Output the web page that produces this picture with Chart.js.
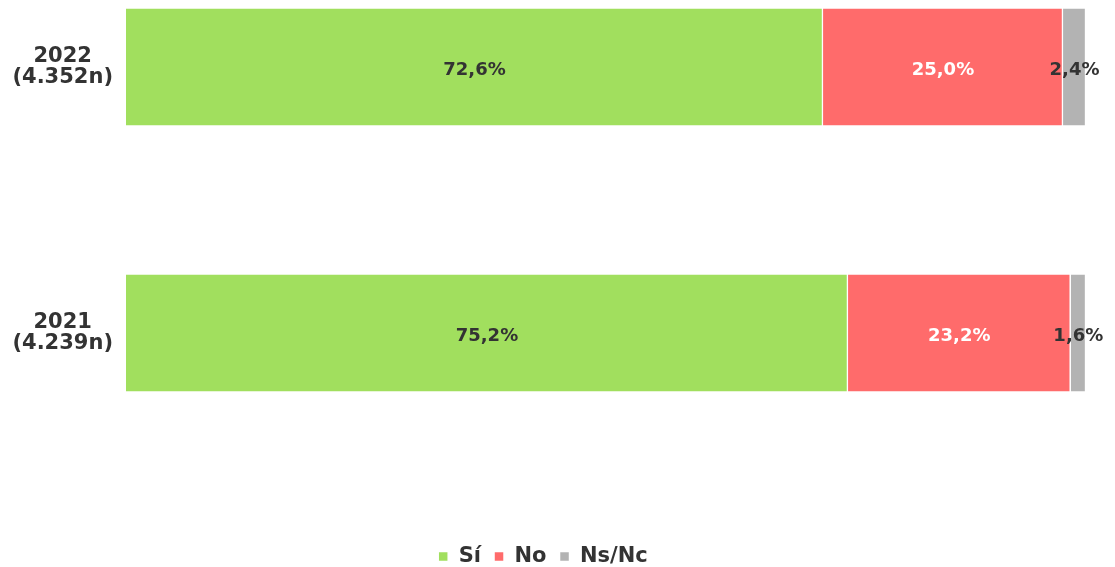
<!DOCTYPE html>
<html>
<head>
<meta charset="utf-8">
<script src="https://cdn.jsdelivr.net/npm/chart.js@4.4.0/dist/chart.umd.min.js"></script>
<style>
  html, body { margin: 0; padding: 0; background: #fff; }
  #wrap { width: 1115px; height: 567px; }
</style>
</head>
<body>
<div id="wrap"><canvas id="grafico"></canvas></div>
<script>
// Datos
const categorias = [['2022', '(4.352n)'], ['2021', '(4.239n)']];
const series = ['Sí', 'No', 'Ns/Nc'];
const valoresSi = [72.6, 75.2];
const valoresNo = [25.0, 23.2];
const valoresNsNc = [2.4, 1.6];

const colores = ['#a1df5e', '#ff6b6b', '#b3b3b3'];
const coloresTexto = ['#333333', '#ffffff', '#333333'];
const fuente = "'DejaVu Sans', Verdana, sans-serif";

// etiquetas dentro de las barras
const etiquetas = {
  id: 'etiquetas',
  afterDatasetsDraw(chart) {
    const ctx = chart.ctx;
    ctx.save();
    ctx.font = 'bold 18px ' + fuente;
    ctx.textAlign = 'center';
    ctx.textBaseline = 'middle';
    chart.data.datasets.forEach((ds, i) => {
      chart.getDatasetMeta(i).data.forEach((bar, j) => {
        const v = ds.data[j];
        const x = (bar.base + bar.x) / 2;
        ctx.fillStyle = coloresTexto[i];
        ctx.fillText(v.toFixed(1).replace('.', ',') + '%', x, bar.y + 3);
      });
    });
    ctx.restore();
  }
};

new Chart(document.getElementById('grafico'), {
  type: 'bar',
  data: {
    labels: categorias,
    datasets: [
      { label: series[0], data: valoresSi, backgroundColor: colores[0] },
      { label: series[1], data: valoresNo, backgroundColor: colores[1] },
      { label: series[2], data: valoresNsNc, backgroundColor: colores[2] }
    ].map(d => Object.assign(d, { borderColor: '#ffffff', borderWidth: 1.5, barThickness: 119, clip: false }))
  },
  options: {
    indexAxis: 'y',
    responsive: true,
    maintainAspectRatio: false,
    animation: false,
    layout: { padding: { top: 67, right: 29, left: 0, bottom: -10 } },
    scales: {
      x: {
        stacked: true, min: 0, max: 100,
        grid: { display: false }, border: { display: false },
        ticks: { display: false },
        afterFit: s => { s.height = 200; }
      },
      y: {
        stacked: true, offset: false,
        grid: { display: false }, border: { display: false },
        ticks: {
          color: '#333333', crossAlign: 'center', padding: 5,
          font: { family: fuente, size: 21, weight: 'bold', lineHeight: 1.0 }
        },
        afterFit: s => { s.width = 126; }
      }
    },
    plugins: {
      legend: {
        position: 'bottom',
        labels: {
          color: '#333333',
          font: { family: fuente, size: 21, weight: 'bold' },
          boxWidth: 10, boxHeight: 10, padding: 13
        }
      },
      tooltip: { enabled: false }
    }
  },
  plugins: [etiquetas]
});
</script>
</body>
</html>
